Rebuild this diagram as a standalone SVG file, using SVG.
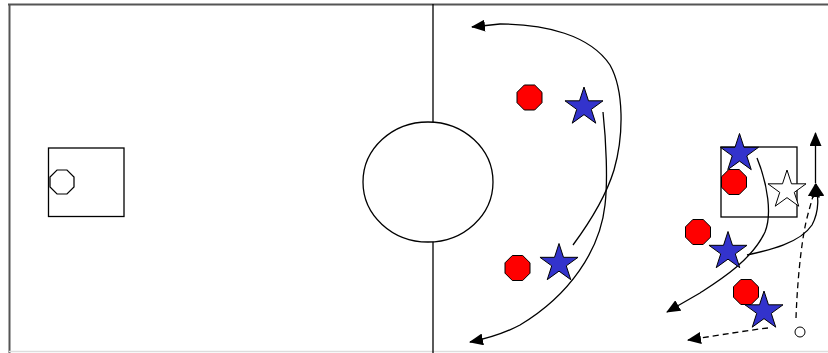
<svg xmlns="http://www.w3.org/2000/svg" width="828" height="353" viewBox="0 0 828 353">
<defs>
<style>
.ln{fill:none;stroke:#000;stroke-width:1.3}
.ds{fill:none;stroke:#000;stroke-width:1.3;stroke-dasharray:6,4}
.oct{fill:#ff0000;stroke:#000;stroke-width:1}
.star{fill:#3333cc;stroke:#000;stroke-width:1}
.wstar{fill:#fff;stroke:#000;stroke-width:1}
</style>
<polygon id="octa" points="-5.18,-12.5 5.18,-12.5 12.5,-5.18 12.5,5.18 5.18,12.5 -5.18,12.5 -12.5,5.18 -12.5,-5.18"/>
<polygon id="st" points="0,-20 4.49,-6.18 19.02,-6.18 7.27,2.36 11.76,16.18 0,7.64 -11.76,16.18 -7.27,2.36 -19.02,-6.18 -4.49,-6.18"/>
<marker id="ah" markerUnits="userSpaceOnUse" markerWidth="14" markerHeight="12" viewBox="0 0 14 12" refX="13" refY="6" orient="auto">
<path d="M0,0 L14,6 L0,12 Z" fill="#000"/>
</marker>
</defs>
<rect width="828" height="353" fill="#fff"/>
<g id="field">
<line x1="8" y1="4.5" x2="828" y2="4.5" stroke="#555" stroke-width="2"/>
<line x1="9.5" y1="4" x2="9.5" y2="353" stroke="#555" stroke-width="2"/>
<line x1="9" y1="351.5" x2="828" y2="351.5" stroke="#ddd" stroke-width="1.5"/>
<line x1="433" y1="4" x2="433" y2="353" class="ln"/>
<ellipse cx="428" cy="182" rx="65" ry="60" fill="#fff" stroke="#000" stroke-width="1.3"/>
<rect x="48.5" y="148" width="75.5" height="68.5" class="ln"/>
<rect x="721" y="147" width="76" height="70" class="ln"/>
</g>
<g id="connectors">
<path class="ln" d="M573,245 C590,222 606,196 614,170 C624,135 624,90 610,65 C590,35 545,24 500,24 L472,27" marker-end="url(#ah)"/>
<path class="ln" d="M603,112 C606,140 608,180 605,205 C600,250 570,295 520,325 C505,333 490,338 470,342" marker-end="url(#ah)"/>
<path class="ln" d="M757,158 C768,185 772,215 765,232 C752,260 720,280 700,293 L667,312" marker-end="url(#ah)"/>
<path class="ln" d="M747,255 C770,250 800,243 812,225 C820,210 818,195 816,184" marker-end="url(#ah)"/>
<path class="ds" d="M796,318 C797,290 800,250 806,222 C810,205 814,195 815.5,184" marker-end="url(#ah)"/>
<path class="ln" d="M815.5,183 L815.5,133" marker-end="url(#ah)"/>
<path class="ds" d="M768,328 C750,330 720,335 688,340" marker-end="url(#ah)"/>
</g>
<g id="goalie-left"><use href="#octa" x="62" y="182" fill="#fff" stroke="#000" stroke-width="1.3" transform="translate(62 182) scale(0.96) translate(-62 -182)"/></g>
<g id="red1"><use href="#octa" class="oct" x="529.5" y="97.5"/></g>
<g id="red2"><use href="#octa" class="oct" x="517.5" y="268"/></g>
<g id="red3"><use href="#octa" class="oct" x="734" y="182"/></g>
<g id="red4"><use href="#octa" class="oct" x="698" y="232"/></g>
<g id="red5"><use href="#octa" class="oct" x="746" y="292"/></g>
<g id="blue1"><use href="#st" class="star" x="584" y="107"/></g>
<g id="blue2"><use href="#st" class="star" x="559" y="263.5"/></g>
<g id="blue3"><use href="#st" class="star" x="739.5" y="153.5"/></g>
<g id="blue4"><use href="#st" class="star" x="728" y="251.5"/></g>
<g id="blue5"><use href="#st" class="star" x="764" y="311"/></g>
<g id="white-star"><use href="#st" class="wstar" x="787" y="190"/></g>
<g id="ball"><circle cx="800" cy="332" r="5" fill="#fff" stroke="#000" stroke-width="1"/></g>
</svg>
